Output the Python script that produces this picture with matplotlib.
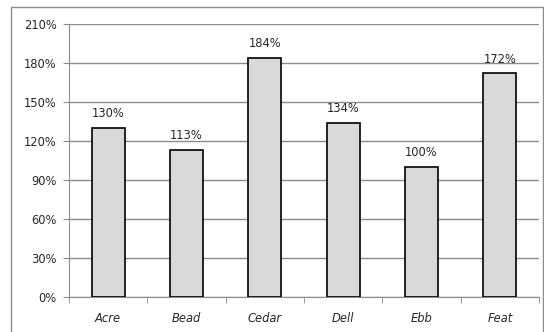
import numpy as np
import matplotlib.pyplot as plt
from matplotlib.patches import Rectangle

categories = ['Acre', 'Bead', 'Cedar', 'Dell', 'Ebb', 'Feat']
values = [130, 113, 184, 134, 100, 172]
yticks = [0, 30, 60, 90, 120, 150, 180, 210]

plt.rcParams['font.family'] = ['DejaVu Sans']

fig = plt.figure(figsize=(5.44, 3.32), dpi=100)
fig.patch.set_facecolor('white')

# outer chart border
fig.patches.append(Rectangle((11 / 544, -2 / 332), 532 / 544, 327 / 332,
                             transform=fig.transFigure, fill=False,
                             edgecolor='#8c8c8c', linewidth=1.0))

ax = fig.add_axes([69 / 544, 1 - 297 / 332, 470 / 544, 273 / 332])
x = np.arange(len(categories))
ax.bar(x, values, width=0.42, color='#d9d9d9', edgecolor='black',
       linewidth=1.2, zorder=3)

for xi, v in zip(x, values):
    ax.text(xi, v + 6, f'{v}%', ha='center', va='bottom', fontsize=8.3,
            color='#262626')

ax.set_xlim(-0.5, len(categories) - 0.5)
ax.set_ylim(0, 210)
ax.set_yticks(yticks)
ax.set_yticklabels([f'{t}%' for t in yticks], fontsize=8.3, color='#262626')
ax.yaxis.grid(True, color='#8c8c8c', linewidth=1.0, zorder=0)
ax.set_axisbelow(True)

ax.set_xticks(x)
ax.set_xticklabels(categories, fontsize=8.3, style='italic', color='#262626')
ax.tick_params(axis='x', length=0, pad=11)
ax.set_xticks(np.arange(len(categories) + 1) - 0.5, minor=True)
ax.tick_params(axis='x', which='minor', length=4, color='#8c8c8c')
ax.tick_params(axis='y', length=4, color='#8c8c8c', pad=5)

for s in ['top', 'right']:
    ax.spines[s].set_visible(False)
for s in ['left', 'bottom']:
    ax.spines[s].set_color('#8c8c8c')

fig.savefig('out.png', dpi=100)
